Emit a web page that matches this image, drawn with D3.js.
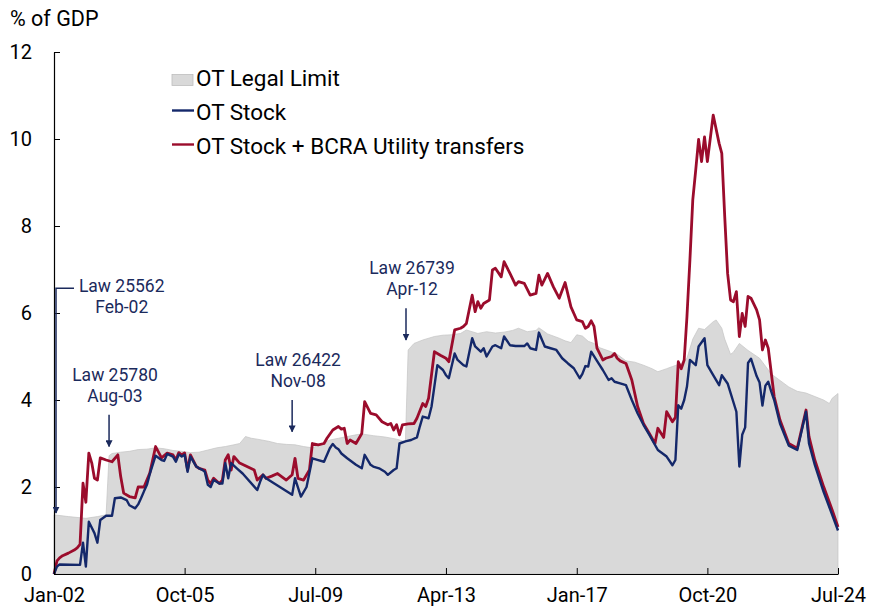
<!DOCTYPE html>
<html>
<head>
<meta charset="utf-8">
<script src="https://cdn.jsdelivr.net/npm/d3@7"></script>
<style>
  body { margin: 0; background: #fff; }
  svg text { font-family: Roboto, "Noto Sans", sans-serif; }
</style>
</head>
<body>
<div id="chart"></div>
<script>
// OT legal limit (grey area)
var limitDates = ["2002-01","2002-06","2002-12","2003-04","2003-07","2003-08","2003-09","2003-12","2004-03","2004-06","2004-09","2004-12",
  "2005-03","2005-06","2005-09","2005-12","2006-03","2006-06","2006-09","2006-12","2007-03","2007-05","2007-07","2007-09","2007-11",
  "2008-03","2008-06","2008-09","2008-12","2009-03","2009-06","2009-09","2009-12","2010-03","2010-06","2010-09","2010-11","2011-03",
  "2011-07","2011-11","2012-02","2012-03","2012-05","2012-08","2012-12","2013-03","2013-06","2013-09","2013-11","2014-03","2014-06",
  "2014-09","2014-12","2015-03","2015-05","2015-08","2015-11","2015-12","2016-03","2016-07","2016-09","2016-11","2017-01","2017-03",
  "2017-05","2017-07","2017-09","2017-12","2018-03","2018-06","2018-09","2018-12","2019-03","2019-05","2019-08","2019-10","2020-01",
  "2020-03","2020-05","2020-07","2020-09","2020-12","2021-01","2021-03","2021-04","2021-06","2021-07","2021-09","2021-12","2022-04",
  "2022-08","2022-11","2023-02","2023-05","2023-08","2023-11","2024-02","2024-04","2024-05","2024-07"];
var limitValues = [1.36,1.32,1.28,1.32,1.36,2.72,2.77,2.80,2.82,2.86,2.87,2.90,
  2.88,2.84,2.82,2.79,2.80,2.85,2.90,2.93,2.97,3.00,3.16,3.12,3.10,
  3.05,3.00,2.98,2.97,2.93,2.90,2.98,3.08,3.12,3.16,3.20,3.22,3.18,
  3.15,3.10,3.04,5.15,5.30,5.38,5.46,5.49,5.50,5.53,5.61,5.53,5.57,
  5.54,5.56,5.60,5.65,5.57,5.60,5.66,5.52,5.42,5.36,5.32,5.50,5.47,
  5.35,5.30,5.20,5.13,5.05,4.90,4.87,4.80,4.72,4.65,4.72,4.77,4.84,
  4.96,5.40,5.65,5.62,5.80,5.84,5.65,5.40,5.05,5.10,5.30,5.14,4.96,
  4.60,4.45,4.30,4.20,4.16,4.08,4.00,3.92,4.04,4.15];

// OT stock (blue line)
var stockDates = ["2002-01","2002-02","2002-03","2002-10","2002-11","2002-12","2003-01","2003-03","2003-04","2003-05","2003-07","2003-09",
  "2003-10","2003-12","2004-02","2004-03","2004-05","2004-06","2004-07","2004-08","2004-09","2004-10","2004-12","2005-02","2005-03",
  "2005-04","2005-06","2005-07","2005-08","2005-09","2005-10","2005-11","2005-12","2006-02","2006-03","2006-04","2006-05","2006-06",
  "2006-07","2006-08","2006-10","2006-11","2006-12","2007-01","2007-02","2007-04","2007-06","2007-11","2007-12","2008-01","2008-02",
  "2008-11","2008-12","2009-02","2009-04","2009-06","2009-08","2009-10","2009-12","2010-01","2010-02","2010-03","2010-04","2010-06",
  "2010-09","2010-11","2010-12","2011-02","2011-03","2011-05","2011-07","2011-08","2011-10","2011-11","2011-12","2012-02","2012-04",
  "2012-06","2012-07","2012-08","2012-10","2012-11","2013-01","2013-03","2013-04","2013-05","2013-07","2013-08","2013-10","2013-11",
  "2014-01","2014-02","2014-04","2014-05","2014-06","2014-08","2014-09","2014-11","2014-12","2015-02","2015-04","2015-07","2015-08",
  "2015-09","2015-11","2015-12","2016-02","2016-04","2016-06","2016-08","2016-10","2016-12","2017-02","2017-03","2017-04","2017-05",
  "2017-06","2017-08","2017-10","2017-12","2018-01","2018-02","2018-04","2018-06","2018-08","2018-10","2018-12","2019-02","2019-05",
  "2019-08","2019-10","2019-11","2019-12","2020-01","2020-02","2020-03","2020-04","2020-06","2020-07","2020-09","2020-10","2020-12",
  "2021-02","2021-03","2021-05","2021-08","2021-09","2021-10","2021-11","2021-12","2022-01","2022-03","2022-04","2022-05","2022-06",
  "2022-07","2022-08","2022-09","2022-11","2023-02","2023-05","2023-08","2023-09","2023-11","2024-02","2024-05","2024-07"];
var stockValues = [0,0.17,0.22,0.21,0.72,0.17,1.20,0.94,0.72,1.24,1.34,1.34,
  1.74,1.76,1.70,1.58,1.51,1.60,1.74,1.90,2.05,2.30,2.72,2.62,2.60,
  2.76,2.70,2.58,2.75,2.70,2.74,2.35,2.70,2.47,2.43,2.40,2.35,2.05,
  2.00,2.16,2.08,2.08,2.55,2.20,2.55,2.43,2.31,1.93,2.12,2.28,2.20,
  1.82,2.20,1.78,2.00,2.66,2.62,2.58,2.89,2.99,2.91,2.87,2.77,2.66,
  2.51,2.43,2.74,2.51,2.47,2.43,2.35,2.28,2.39,2.43,3.00,3.05,3.08,
  3.14,3.39,3.62,3.58,3.85,4.80,4.69,4.57,4.50,5.07,4.92,4.80,4.77,
  5.42,5.23,5.11,5.19,5.00,5.23,5.26,5.19,5.46,5.26,5.24,5.24,5.30,
  5.19,5.15,5.55,5.23,5.19,5.15,4.96,4.84,4.73,4.50,4.60,4.78,4.77,
  5.11,4.90,4.69,4.46,4.50,4.42,4.38,4.34,4.00,3.69,3.43,3.20,2.85,
  2.70,2.50,2.62,3.88,3.80,4.00,4.31,4.92,4.80,5.23,5.42,4.80,4.57,
  4.34,4.57,4.38,3.73,2.47,3.20,3.37,4.85,4.95,4.55,4.40,3.87,4.33,
  4.42,4.20,4.00,3.46,2.95,2.85,3.73,3.00,2.51,1.89,1.36,1.00];

// OT stock + BCRA utility transfers (red line)
var transferDates = ["2002-01","2002-02","2002-03","2002-04","2002-06","2002-08","2002-09","2002-10","2002-11","2002-12","2003-01","2003-02",
  "2003-03","2003-04","2003-05","2003-07","2003-09","2003-11","2003-12","2004-01","2004-03","2004-05","2004-06","2004-08","2004-10",
  "2004-12","2005-02","2005-04","2005-06","2005-07","2005-08","2005-09","2005-10","2005-11","2005-12","2006-02","2006-03","2006-05",
  "2006-06","2006-07","2006-08","2006-10","2006-11","2006-12","2007-01","2007-02","2007-03","2007-05","2007-10","2007-11","2008-01",
  "2008-02","2008-04","2008-06","2008-09","2008-11","2008-12","2009-01","2009-03","2009-05","2009-06","2009-08","2009-10","2009-11",
  "2010-01","2010-03","2010-04","2010-05","2010-06","2010-07","2010-09","2010-11","2010-12","2011-02","2011-04","2011-06","2011-08",
  "2011-09","2011-10","2011-11","2011-12","2012-01","2012-03","2012-05","2012-06","2012-08","2012-09","2012-10","2012-12","2013-02",
  "2013-04","2013-05","2013-07","2013-09","2013-10","2013-11","2014-01","2014-02","2014-03","2014-04","2014-05","2014-07","2014-08",
  "2014-09","2014-11","2014-12","2015-02","2015-04","2015-05","2015-07","2015-09","2015-11","2015-12","2016-01","2016-03","2016-05",
  "2016-07","2016-09","2016-11","2017-01","2017-03","2017-04","2017-05","2017-06","2017-07","2017-08","2017-10","2017-11","2018-01",
  "2018-02","2018-03","2018-04","2018-06","2018-08","2018-09","2018-10","2018-12","2019-02","2019-04","2019-05","2019-07","2019-08",
  "2019-10","2019-11","2019-12","2020-01","2020-02","2020-03","2020-04","2020-05","2020-06","2020-07","2020-08","2020-09","2020-10",
  "2020-12","2021-02","2021-03","2021-04","2021-05","2021-06","2021-07","2021-08","2021-09","2021-10","2021-11","2021-12","2022-01",
  "2022-03","2022-04","2022-05","2022-06","2022-07","2022-09","2022-11","2023-02","2023-05","2023-08","2023-09","2023-11","2024-02",
  "2024-05","2024-07"];
var transferValues = [0,0.30,0.37,0.42,0.48,0.55,0.60,0.68,2.09,1.65,2.78,2.55,
  2.20,2.16,2.67,2.62,2.58,2.74,2.24,1.86,1.78,1.75,2.00,2.00,2.32,
  2.93,2.67,2.78,2.74,2.62,2.79,2.74,2.78,2.39,2.74,2.47,2.43,2.39,
  2.16,2.08,2.20,2.08,2.16,2.62,2.74,2.39,2.70,2.55,2.39,2.16,2.28,
  2.20,2.25,2.31,2.16,2.28,2.66,2.20,2.16,2.39,3.00,2.97,3.00,3.12,
  3.31,3.39,3.33,3.35,3.00,3.08,3.00,3.23,3.96,3.69,3.66,3.50,3.43,
  3.46,3.31,3.43,3.20,3.43,3.45,3.46,3.58,3.92,3.85,4.04,5.11,5.03,
  4.96,4.88,5.61,5.65,5.69,5.76,6.41,6.03,6.26,6.11,6.22,6.30,6.99,
  7.03,6.83,7.18,6.91,6.64,6.72,6.68,6.41,6.45,6.87,6.64,6.91,6.60,
  6.34,6.70,6.14,5.84,5.80,5.65,5.69,5.82,5.69,5.19,4.92,4.96,5.00,
  5.07,4.96,4.90,4.84,4.46,4.15,3.85,3.46,3.23,3.00,3.35,3.14,3.73,
  3.50,3.60,4.88,4.72,4.92,5.92,7.22,8.60,9.29,9.99,9.48,10.05,9.48,
  10.55,9.90,9.67,8.21,6.91,6.30,6.26,6.49,5.46,5.99,5.69,6.38,6.34,
  6.07,5.84,5.15,5.38,5.19,4.08,3.54,3.00,2.89,3.77,3.16,2.62,2.01,
  1.47,1.08];

var xTickDates = ["2002-01","2005-10","2009-07","2013-04","2017-01","2020-10","2024-07"];
var xTickLabels = ["Jan-02","Oct-05","Jul-09","Apr-13","Jan-17","Oct-20","Jul-24"];
var yTicks = [0, 2, 4, 6, 8, 10, 12];

// law annotations: date of the arrow, label lines, arrow top / bottom in % of GDP
var lawDates = ["2002-01","2003-08","2008-11","2012-02"];
var lawNames = ["Law 25562","Law 25780","Law 26422","Law 26739"];
var lawMonths = ["Feb-02","Aug-03","Nov-08","Apr-12"];
var arrowTop = [6.57, 3.66, 4.0, 6.11];
var arrowBottom = [1.4, 2.93, 3.27, 5.38];

var legendLabels = ["OT Legal Limit", "OT Stock", "OT Stock + BCRA Utility transfers"];

var width = 873, height = 615;
var blue = "#14286a", red = "#9b0c2c", grey = "#d9d9d9", navy = "#1b2a5c";
var parse = d3.timeParse("%Y-%m");

function zip(dates, values) {
  return dates.map(function(d, i) { return {date: parse(d), value: values[i]}; });
}
var limitData = zip(limitDates, limitValues);
var stockData = zip(stockDates, stockValues);
var transferData = zip(transferDates, transferValues);

var svg = d3.select("#chart").append("svg")
  .attr("width", width)
  .attr("height", height);

var x = d3.scaleTime()
  .domain([parse("2002-01"), parse("2024-07")])
  .range([54, 838]);
var y = d3.scaleLinear()
  .domain([0, 12])
  .range([574, 52]);

// grey area
var area = d3.area()
  .x(function(d) { return x(d.date); })
  .y0(y(0))
  .y1(function(d) { return y(d.value); });
svg.append("path")
  .datum(limitData)
  .attr("d", area)
  .attr("fill", grey)
  .attr("stroke", "#c4c4c4")
  .attr("stroke-width", 0.7);

// lines
var line = d3.line()
  .x(function(d) { return x(d.date); })
  .y(function(d) { return y(d.value); });
svg.append("path")
  .datum(transferData)
  .attr("d", line)
  .attr("fill", "none")
  .attr("stroke", red)
  .attr("stroke-width", 2.8)
  .attr("stroke-linejoin", "round");
svg.append("path")
  .datum(stockData)
  .attr("d", line)
  .attr("fill", "none")
  .attr("stroke", blue)
  .attr("stroke-width", 2.4)
  .attr("stroke-linejoin", "round");

// x axis
var xAxis = svg.append("g")
  .attr("transform", "translate(0," + y(0) + ")")
  .call(d3.axisBottom(x)
    .tickValues(xTickDates.map(parse))
    .tickSizeInner(-6)
    .tickSizeOuter(0)
    .tickPadding(28)
    .tickFormat(function(d, i) { return xTickLabels[i]; }));
xAxis.select(".domain").attr("stroke", "#000").attr("stroke-width", 1.2);
xAxis.selectAll("line").attr("stroke", "#000");
xAxis.selectAll("text")
  .attr("font-size", 20)
  .attr("fill", "#000")
  .attr("dy", "0");

// y axis
var yAxis = svg.append("g")
  .attr("transform", "translate(" + x(parse("2002-01")) + ",0)")
  .call(d3.axisLeft(y)
    .tickValues(yTicks)
    .tickSizeInner(-6)
    .tickSizeOuter(0)
    .tickPadding(22)
    .tickFormat(d3.format("d")));
yAxis.select(".domain").attr("stroke", "#000").attr("stroke-width", 1.2);
yAxis.selectAll("line").attr("stroke", "#000");
yAxis.selectAll("text")
  .attr("font-size", 20)
  .attr("fill", "#000");

svg.append("text")
  .attr("x", 10)
  .attr("y", 26)
  .attr("font-size", 21.5)
  .text("% of GDP");

// annotations
var defs = svg.append("defs");
defs.append("marker")
  .attr("id", "arrow")
  .attr("viewBox", "0 0 10 10")
  .attr("refX", 9)
  .attr("refY", 5)
  .attr("markerWidth", 7)
  .attr("markerHeight", 7)
  .attr("markerUnits", "userSpaceOnUse")
  .attr("orient", "auto")
  .append("path")
  .attr("d", "M0,0L10,5L0,10Z")
  .attr("fill", navy);

var labelX = [121.7, 115, 293, 405];
lawDates.forEach(function(d, i) {
  var ax = i == 0 ? x(parse(d)) + 2 : x(parse(d));
  if (i == 3) ax = 406;
  var path;
  if (i == 0) {
    path = "M" + (ax + 18) + "," + y(arrowTop[i]) + "H" + ax + "V" + y(arrowBottom[i]);
  } else {
    path = "M" + ax + "," + y(arrowTop[i]) + "V" + y(arrowBottom[i]);
  }
  svg.append("path")
    .attr("d", path)
    .attr("fill", "none")
    .attr("stroke", navy)
    .attr("stroke-width", 1.5)
    .attr("marker-end", "url(#arrow)");
  var tx = i == 0 ? labelX[0] : ax + 6;
  if (i == 1) tx = 115;
  var ty = i == 0 ? y(arrowTop[i]) + 4 : y(arrowTop[i]) - 34;
  var t = svg.append("text")
    .attr("text-anchor", "middle")
    .attr("font-size", 17.5)
    .attr("fill", navy);
  t.append("tspan").attr("x", tx).attr("y", ty).text(lawNames[i]);
  t.append("tspan").attr("x", tx).attr("y", ty + 21).text(lawMonths[i]);
});

// legend
var legend = svg.append("g").attr("transform", "translate(172,0)");
legend.append("rect")
  .attr("x", 0).attr("y", 74.5)
  .attr("width", 21).attr("height", 11)
  .attr("fill", grey)
  .attr("stroke", "#bdbdbd")
  .attr("stroke-width", 0.8);
[blue, red].forEach(function(c, i) {
  legend.append("line")
    .attr("x1", 0).attr("x2", 22)
    .attr("y1", 110.5 + i * 34).attr("y2", 110.5 + i * 34)
    .attr("stroke", c)
    .attr("stroke-width", 2.4);
});
legend.selectAll("text.leg")
  .data(legendLabels)
  .enter()
  .append("text")
  .attr("class", "leg")
  .attr("x", 24)
  .attr("y", function(d, i) { return 86 + i * 34; })
  .attr("font-size", 22.5)
  .text(function(d) { return d; });
</script>
</body>
</html>
